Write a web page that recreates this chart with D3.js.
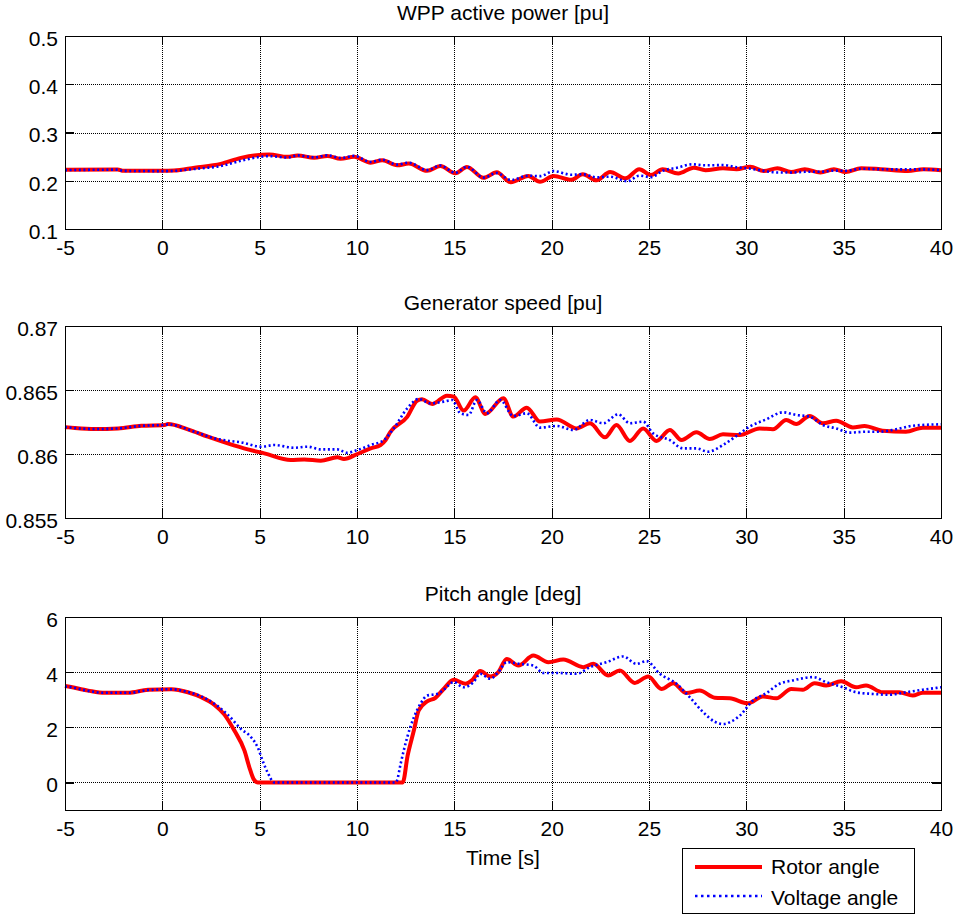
<!DOCTYPE html>
<html><head><meta charset="utf-8">
<script src="https://cdn.jsdelivr.net/npm/d3@7"></script>
<style>
body{margin:0;background:#fff}
text{font-family:"Liberation Sans",Arial,sans-serif;font-size:21px;fill:#000}
</style>
</head><body><svg id="c" width="955" height="915"></svg>
<script>
const timeTicks = [-5,0,5,10,15,20,25,30,35,40];
const timeLabels = ["-5","0","5","10","15","20","25","30","35","40"];
const titles = ["WPP active power [pu]","Generator speed [pu]","Pitch angle [deg]"];
const xLabel = "Time [s]";
const seriesNames = ["Rotor angle","Voltage angle"];
const powerTicks = [0.1,0.2,0.3,0.4,0.5];
const powerLabels = ["0.1","0.2","0.3","0.4","0.5"];
const speedTicks = [0.855,0.86,0.865,0.87];
const speedLabels = ["0.855","0.86","0.865","0.87"];
const pitchTicks = [0,2,4,6];
const pitchLabels = ["0","2","4","6"];

const powerRotor = [[-5,0.223],[-2.3,0.2235],[-2.0,0.2205],[0,0.2205],[0.6,0.221],[1.66,0.227],[3.0,0.235],[4.04,0.2475],[5.49,0.2545],[6.43,0.2495],[6.95,0.2525],[7.8,0.2475],[8.48,0.2515],[9.16,0.2455],[9.85,0.2495],[10.7,0.2375],[11.3,0.2425],[12.06,0.232],[12.66,0.2355],[13.6,0.2205],[14.28,0.2305],[15.05,0.2155],[15.65,0.2285],[16.5,0.206],[17.18,0.2175],[17.9,0.197],[18.8,0.21],[19.4,0.198],[20.1,0.21],[21.0,0.202],[21.6,0.2135],[22.3,0.201],[23.0,0.218],[23.8,0.205],[24.5,0.224],[25.1,0.212],[25.7,0.224],[26.5,0.215],[27.3,0.227],[27.9,0.222],[28.8,0.226],[29.5,0.224],[30.2,0.229],[30.9,0.22],[31.6,0.226],[32.3,0.218],[33.0,0.224],[33.8,0.217],[34.5,0.224],[35.1,0.218],[35.9,0.226],[36.9,0.224],[38.3,0.22],[39.1,0.224],[40,0.222]];
const powerVoltage = [[-5,0.222],[-2.3,0.223],[-2.0,0.2205],[0,0.22],[0.6,0.2205],[1.66,0.2245],[3.0,0.2305],[4.04,0.2415],[5.49,0.251],[6.43,0.248],[6.95,0.2525],[7.8,0.2485],[8.48,0.2525],[9.16,0.247],[9.85,0.2515],[10.7,0.239],[11.3,0.2435],[12.06,0.2335],[12.66,0.2375],[13.6,0.222],[14.28,0.2315],[15.05,0.2165],[15.65,0.229],[16.5,0.2065],[17.18,0.216],[17.9,0.2015],[18.8,0.2105],[19.4,0.2095],[20.1,0.22],[21.0,0.2125],[21.6,0.2135],[22.3,0.207],[23.0,0.2085],[23.9,0.199],[24.5,0.2105],[25.1,0.2075],[25.7,0.2205],[26.5,0.2275],[27.2,0.234],[27.9,0.232],[28.8,0.2325],[29.5,0.228],[30.2,0.225],[30.9,0.2205],[31.6,0.217],[32.3,0.217],[33.0,0.2185],[33.8,0.2185],[34.5,0.221],[35.1,0.2205],[35.9,0.225],[36.9,0.224],[38.3,0.2235],[39.1,0.2235],[40,0.222]];

const speedRotor = [[-5,0.8621],[-4.83,0.86208],[-3.46,0.86195],[-2.27,0.8620],[-1.08,0.8622],[0.12,0.86227],[0.29,0.86234],[1.31,0.86193],[2.34,0.86135],[3.36,0.86083],[4.39,0.86036],[5.24,0.86005],[6.6,0.85953],[7.29,0.85958],[8.14,0.85948],[8.99,0.85974],[9.33,0.85961],[10.02,0.86],[10.7,0.86044],[11.21,0.8607],[11.47,0.86109],[11.72,0.86174],[12.58,0.8629],[13.09,0.86417],[13.34,0.86427],[13.86,0.8639],[14.62,0.86456],[14.97,0.86448],[15.48,0.86339],[16.08,0.86443],[16.59,0.86313],[17.52,0.86435],[18.03,0.86292],[18.72,0.86362],[19.4,0.86253],[20.26,0.8627],[21.28,0.862],[21.97,0.8624],[22.74,0.8613],[23.33,0.86227],[24.02,0.86102],[24.7,0.862],[25.38,0.86102],[26.07,0.86188],[26.67,0.86109],[27.44,0.86169],[28.12,0.86117],[28.8,0.86154],[29.66,0.86148],[30.68,0.862],[31.37,0.86193],[32.05,0.86266],[32.56,0.86234],[33.25,0.86297],[33.93,0.8624],[34.62,0.8626],[35.47,0.86208],[36.07,0.86219],[37.0,0.86182],[38.2,0.86174],[39.06,0.86206],[40,0.86206]];
const speedVoltage = [[-5,0.8621],[-3.46,0.86195],[-2.27,0.8620],[-1.08,0.8622],[0.12,0.86227],[0.29,0.86232],[1.66,0.86174],[2.68,0.86122],[3.36,0.86104],[4.04,0.86091],[5.07,0.86057],[5.75,0.8607],[6.77,0.86049],[7.46,0.86057],[8.14,0.86036],[8.99,0.86036],[9.5,0.8601],[10.02,0.86031],[10.7,0.8607],[11.38,0.86109],[11.89,0.862],[12.58,0.86357],[13.17,0.8643],[13.77,0.86396],[14.45,0.86409],[14.88,0.86422],[15.31,0.86318],[15.73,0.86305],[16.16,0.86422],[16.67,0.86318],[17.36,0.86422],[18.03,0.86297],[18.72,0.86318],[19.4,0.86206],[20.26,0.86219],[21.11,0.86188],[21.97,0.86266],[22.65,0.8624],[23.42,0.8631],[24.02,0.8624],[24.7,0.86253],[25.21,0.86161],[26.07,0.86109],[26.75,0.86044],[27.44,0.86044],[28.03,0.86018],[28.8,0.8607],[29.49,0.86141],[30.17,0.86214],[31.03,0.86271],[31.88,0.86326],[32.56,0.86305],[33.25,0.86292],[33.93,0.86227],[34.62,0.862],[35.3,0.86167],[36.15,0.86174],[36.84,0.86174],[37.69,0.86193],[38.55,0.86221],[40,0.86232]];

const pitchRotor = [[-5,3.5],[-4.83,3.48],[-3.81,3.33],[-2.95,3.25],[-1.76,3.25],[-0.73,3.36],[0.46,3.38],[1.31,3.27],[2.0,3.09],[2.68,2.81],[3.19,2.46],[3.70,1.88],[4.22,1.15],[4.47,0.55],[4.69,0.12],[4.9,0],[12.35,0],[12.6,0.97],[12.92,1.88],[13.17,2.61],[13.6,2.94],[14.03,3.07],[14.45,3.39],[14.97,3.72],[15.56,3.58],[15.9,3.7],[16.33,4.04],[16.84,3.84],[17.26,4.0],[17.69,4.48],[18.29,4.24],[19.06,4.6],[19.83,4.36],[20.6,4.46],[21.62,4.18],[22.14,4.3],[22.9,3.88],[23.5,4.06],[24.27,3.61],[24.96,3.84],[25.64,3.39],[26.24,3.6],[26.92,3.24],[27.6,3.33],[28.38,3.07],[29.15,3.05],[30.09,2.87],[30.85,3.12],[31.54,3.05],[32.31,3.39],[32.9,3.36],[33.5,3.6],[34.1,3.52],[34.87,3.67],[35.64,3.45],[36.15,3.52],[37.0,3.27],[37.86,3.27],[38.55,3.15],[39.06,3.25],[40,3.25]];
const pitchVoltage = [[-5,3.48],[-4.83,3.47],[-3.81,3.32],[-2.95,3.25],[-1.76,3.25],[-0.73,3.35],[0.46,3.38],[1.31,3.28],[2.0,3.12],[2.68,2.85],[3.36,2.46],[4.04,1.94],[4.56,1.64],[4.9,1.27],[5.15,0.79],[5.41,0.36],[5.75,0],[11.98,0],[12.05,0.06],[12.24,0.67],[12.58,1.64],[12.92,2.36],[13.26,2.85],[13.6,3.15],[14.11,3.21],[14.45,3.36],[14.97,3.64],[15.48,3.45],[15.99,3.64],[16.33,3.94],[16.84,3.76],[17.26,4.0],[17.69,4.36],[18.38,4.3],[19.06,4.24],[19.57,3.97],[20.26,3.97],[21.28,3.94],[21.97,4.18],[22.82,4.36],[23.68,4.57],[24.36,4.3],[24.87,4.4],[25.56,3.94],[26.41,3.58],[27.09,3.09],[27.78,2.55],[28.38,2.2],[28.8,2.12],[29.2,2.2],[29.66,2.42],[30.34,2.97],[31.03,3.24],[31.71,3.58],[32.39,3.7],[33.42,3.82],[34.1,3.64],[34.96,3.45],[35.64,3.27],[36.5,3.21],[37.35,3.18],[38.2,3.27],[39.06,3.36],[40,3.45]];

const svg = d3.select('#c');
const L = 65, R = 941, CX = (L + R) / 2;
const x = d3.scaleLinear().domain([-5, 40]).range([L, R]);
const lab = (vals, labels) => d => labels[vals.indexOf(d)];

const panels = [
  {title: titles[0], top: 36, bottom: 229, domain: [0.1, 0.5], ticks: powerTicks, labels: powerLabels, series: [powerRotor, powerVoltage]},
  {title: titles[1], top: 326, bottom: 518, domain: [0.855, 0.87], ticks: speedTicks, labels: speedLabels, series: [speedRotor, speedVoltage]},
  {title: titles[2], top: 617, bottom: 810, domain: [-1, 6], ticks: pitchTicks, labels: pitchLabels, series: [pitchRotor, pitchVoltage]}
];

const styles = [
  {stroke: '#ff0000', width: 4, dash: null},
  {stroke: '#0000ff', width: 2.6, dash: '2,2.6'}
];

panels.forEach(p => {
  const y = d3.scaleLinear().domain(p.domain).range([p.bottom, p.top]);
  const g = svg.append('g');
  g.append('rect').attr('x', L).attr('y', p.top).attr('width', R - L).attr('height', p.bottom - p.top).attr('fill', '#fff');
  const grid = g.append('g').attr('stroke', '#000').attr('stroke-width', 1).attr('stroke-dasharray', '1,1').attr('shape-rendering', 'crispEdges');
  grid.selectAll('line.v').data(timeTicks).join('line').attr('class', 'v')
    .attr('x1', d => Math.round(x(d)) + 0.5).attr('x2', d => Math.round(x(d)) + 0.5)
    .attr('y1', p.top).attr('y2', p.bottom);
  grid.selectAll('line.h').data(p.ticks).join('line').attr('class', 'h')
    .attr('y1', d => Math.round(y(d)) + 0.5).attr('y2', d => Math.round(y(d)) + 0.5)
    .attr('x1', L).attr('x2', R);
  const line = d3.line().x(d => x(d[0])).y(d => y(d[1])).curve(d3.curveMonotoneX);
  p.series.forEach((s, i) => {
    const st = styles[i];
    g.append('path').datum(s).attr('d', line).attr('fill', 'none')
      .attr('stroke', st.stroke).attr('stroke-width', st.width)
      .attr('stroke-linejoin', 'round')
      .attr('stroke-dasharray', st.dash);
  });
  const ax = [
    d3.axisBottom(x).tickValues(timeTicks).tickSizeInner(-9).tickSizeOuter(0).tickPadding(11).tickFormat(lab(timeTicks, timeLabels)),
    d3.axisTop(x).tickValues(timeTicks).tickSizeInner(-9).tickSizeOuter(0).tickFormat(''),
    d3.axisLeft(y).tickValues(p.ticks).tickSizeInner(-9).tickSizeOuter(0).tickPadding(7).tickFormat(lab(p.ticks, p.labels)),
    d3.axisRight(y).tickValues(p.ticks).tickSizeInner(-9).tickSizeOuter(0).tickFormat('')
  ];
  const tr = [`translate(0,${p.bottom})`, `translate(0,${p.top})`, `translate(${L},0)`, `translate(${R},0)`];
  ax.forEach((a, i) => {
    const ag = g.append('g').attr('transform', tr[i]).call(a);
    ag.select('.domain').attr('stroke', '#000').attr('stroke-width', 1.5);
    ag.selectAll('.tick line').attr('stroke', '#000').attr('stroke-width', 1.2);
    ag.selectAll('text').attr('font-size', null).attr('font-family', null).attr('fill', '#000');
    if (i === 2) ag.selectAll('text').attr('dy', '0.45em');
  });
  g.selectAll('.domain, .tick line').attr('shape-rendering', 'crispEdges');
  g.append('text').attr('x', CX).attr('y', p.top - 16).attr('text-anchor', 'middle').text(p.title);
});

svg.append('text').attr('x', CX).attr('y', 865).attr('text-anchor', 'middle').text(xLabel);

const lg = svg.append('g');
lg.append('rect').attr('x', 682.5).attr('y', 848.5).attr('width', 232).attr('height', 65)
  .attr('fill', '#fff').attr('stroke', '#000').attr('stroke-width', 1);
seriesNames.forEach((n, i) => {
  const yy = [867, 896][i];
  lg.append('line').attr('x1', 695).attr('x2', 762).attr('y1', yy).attr('y2', yy)
    .attr('stroke', styles[i].stroke).attr('stroke-width', styles[i].width)
    .attr('stroke-dasharray', i ? '2.5,3.5' : null);
  lg.append('text').attr('x', 771).attr('y', [874, 905][i]).text(n);
});
</script>
</body></html>
